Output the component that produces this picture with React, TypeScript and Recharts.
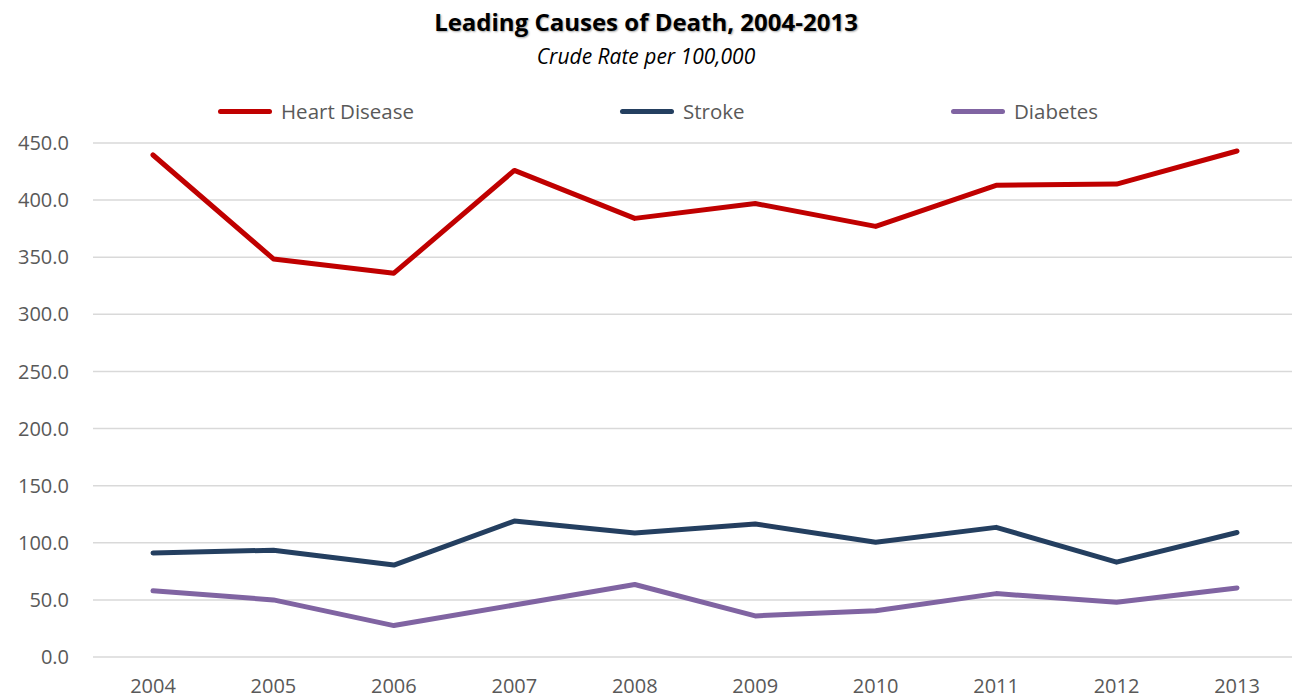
import { CartesianGrid, Line, LineChart, XAxis, YAxis } from "recharts";

const years = ["2004", "2005", "2006", "2007", "2008", "2009", "2010", "2011", "2012", "2013"];
const heartDisease = [439.5, 348.5, 336.0, 426.0, 384.0, 397.0, 377.0, 413.0, 414.0, 443.0];
const stroke = [91.0, 93.5, 80.5, 119.0, 108.5, 116.5, 100.5, 113.5, 83.0, 109.0];
const diabetes = [58.0, 50.0, 27.5, 45.5, 63.5, 36.0, 40.5, 55.5, 48.0, 60.5];
const yTicks = [0, 50, 100, 150, 200, 250, 300, 350, 400, 450];

const SERIES = [
  { key: "heart", name: "Heart Disease", color: "#c00000" },
  { key: "stroke", name: "Stroke", color: "#243f60" },
  { key: "diabetes", name: "Diabetes", color: "#8064a2" },
];

const data = years.map((year, i) => ({
  year,
  heart: heartDisease[i],
  stroke: stroke[i],
  diabetes: diabetes[i],
}));

const FONT = "'Open Sans', sans-serif";
const legendX = [218, 620, 951];

export default function App() {
  return (
    <div
      style={{
        position: "absolute",
        left: 0,
        top: 0,
        width: 1292,
        height: 698,
        overflow: "hidden",
        background: "#fff",
        fontFamily: FONT,
      }}
    >
      <div
        style={{
          position: "absolute",
          left: 0,
          width: 1292,
          top: 5,
          textAlign: "center",
          fontWeight: 700,
          fontSize: 24,
          color: "#000",
          textShadow: "1px 1px 2px rgba(0,0,0,0.35)",
        }}
      >
        Leading Causes of Death, 2004-2013
      </div>
      <div
        style={{
          position: "absolute",
          left: 0,
          width: 1292,
          top: 42,
          textAlign: "center",
          fontStyle: "italic",
          fontSize: 21,
          color: "#000",
        }}
      >
        Crude Rate per 100,000
      </div>
      {SERIES.map((s, i) => (
        <div
          key={s.key}
          style={{ position: "absolute", left: legendX[i], top: 97, height: 28, display: "flex", alignItems: "center" }}
        >
          <div style={{ width: 54, height: 5, borderRadius: 3, background: s.color, marginRight: 9 }} />
          <span style={{ fontSize: 20.5, color: "#595959" }}>{s.name}</span>
        </div>
      ))}
      <LineChart
        width={1297}
        height={698}
        data={data}
        margin={{ top: 143, right: 0, bottom: 0, left: 0 }}
        style={{ position: "absolute", left: 0, top: 0 }}
      >
        <CartesianGrid vertical={false} stroke="#d9d9d9" strokeWidth={1.5} />
        <XAxis
          dataKey="year"
          height={41}
          axisLine={false}
          tickLine={false}
          padding={{ left: 60, right: 60 }}
          tick={{ fill: "#595959", fontSize: 20, fontFamily: FONT }}
          tickMargin={16}
        />
        <YAxis
          width={93}
          domain={[0, 450]}
          ticks={yTicks}
          axisLine={false}
          tickLine={false}
          tickFormatter={(v: number) => v.toFixed(1)}
          tick={{ fill: "#595959", fontSize: 20, fontFamily: FONT }}
          tickMargin={18}
        />
        {SERIES.map((s) => (
          <Line
            key={s.key}
            type="linear"
            dataKey={s.key}
            name={s.name}
            stroke={s.color}
            strokeWidth={5}
            strokeLinecap="round"
            strokeLinejoin="round"
            dot={false}
            activeDot={false}
            isAnimationActive={false}
          />
        ))}
      </LineChart>
    </div>
  );
}
